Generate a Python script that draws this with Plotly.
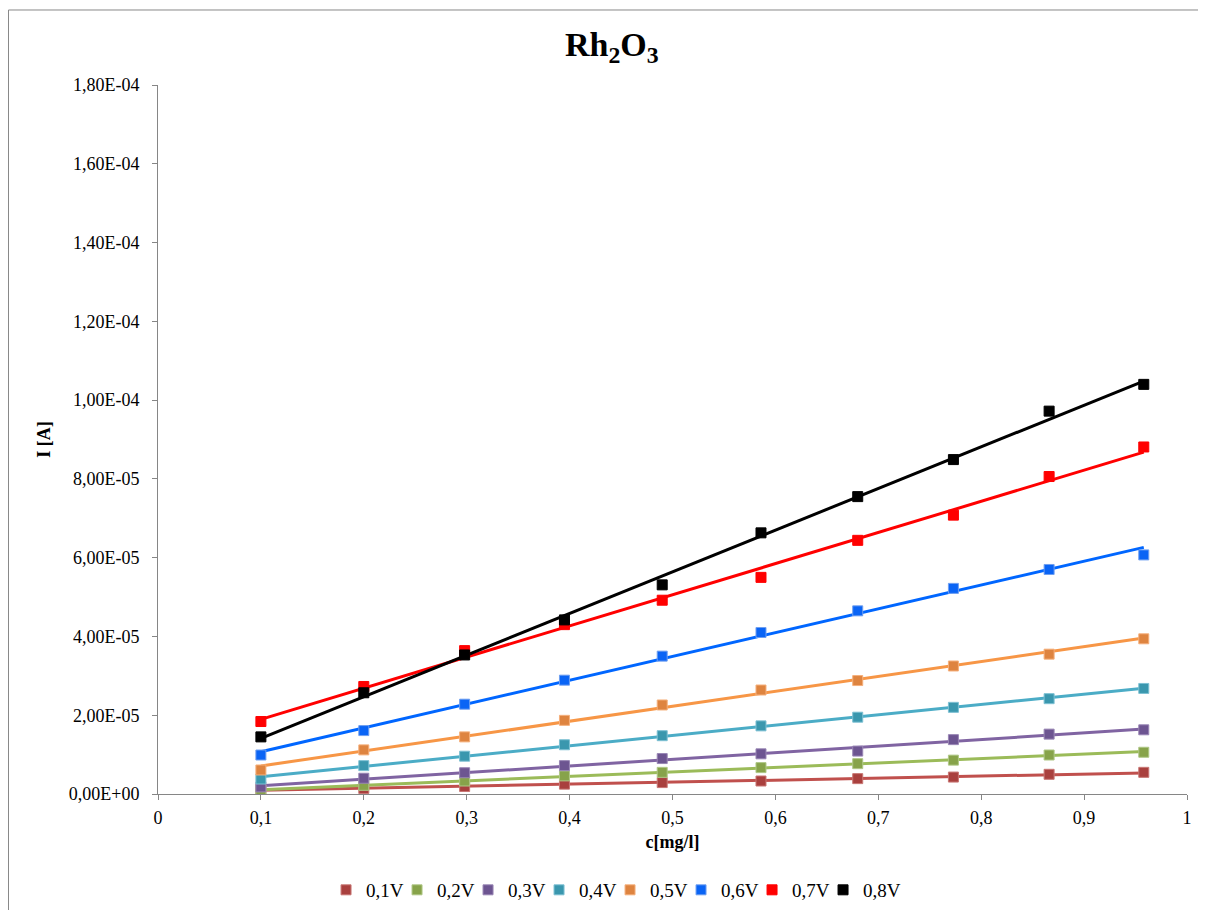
import numpy as np
import plotly.graph_objects as go

c_mg_l = [0.1, 0.2, 0.298, 0.395, 0.49, 0.586, 0.68, 0.773, 0.866, 0.958]

i_01V = [1.2e-6, 1.4e-6, 1.9e-6, 2.5e-6, 2.9e-6, 3.3e-6, 3.9e-6, 4.3e-6, 5.0e-6, 5.5e-6]
i_02V = [1.0e-6, 2.2e-6, 3.3e-6, 4.6e-6, 5.5e-6, 6.7e-6, 7.7e-6, 8.6e-6, 9.9e-6, 1.06e-5]
i_03V = [1.8e-6, 4.0e-6, 5.4e-6, 7.2e-6, 9.0e-6, 1.02e-5, 1.09e-5, 1.38e-5, 1.52e-5, 1.63e-5]
i_04V = [3.8e-6, 7.2e-6, 9.6e-6, 1.25e-5, 1.48e-5, 1.73e-5, 1.95e-5, 2.2e-5, 2.42e-5, 2.68e-5]
i_05V = [6.1e-6, 1.12e-5, 1.45e-5, 1.87e-5, 2.26e-5, 2.64e-5, 2.88e-5, 3.25e-5, 3.55e-5, 3.94e-5]
i_06V = [9.9e-6, 1.61e-5, 2.28e-5, 2.89e-5, 3.5e-5, 4.1e-5, 4.65e-5, 5.22e-5, 5.7e-5, 6.07e-5]
i_07V = [1.84e-5, 2.73e-5, 3.64e-5, 4.3e-5, 4.92e-5, 5.5e-5, 6.44e-5, 7.08e-5, 8.06e-5, 8.81e-5]
i_08V = [1.45e-5, 2.57e-5, 3.53e-5, 4.42e-5, 5.31e-5, 6.63e-5, 7.55e-5, 8.49e-5, 9.72e-5, 1.04e-4]

series_names = ["0,1V", "0,2V", "0,3V", "0,4V", "0,5V", "0,6V", "0,7V", "0,8V"]
series_values = [i_01V, i_02V, i_03V, i_04V, i_05V, i_06V, i_07V, i_08V]
marker_colors = ["#A9403E", "#87A34A", "#6D5591", "#3A97AE", "#DE8440", "#0A64F5", "#FF0000", "#000000"]
marker_edges = ["#C87674", "#AFC786", "#9986B5", "#7DC0D3", "#F5B07C", "#6F9FF0", "#FF0000", "#000000"]
line_colors = ["#C0504D", "#9BBB59", "#8064A2", "#4BACC6", "#F79646", "#0066FF", "#FF0000", "#000000"]

x_tick_vals = [0, 0.1, 0.2, 0.3, 0.4, 0.5, 0.6, 0.7, 0.8, 0.9, 1.0]
x_tick_text = ["0", "0,1", "0,2", "0,3", "0,4", "0,5", "0,6", "0,7", "0,8", "0,9", "1"]
y_tick_vals = [0, 2e-5, 4e-5, 6e-5, 8e-5, 1e-4, 1.2e-4, 1.4e-4, 1.6e-4, 1.8e-4]
y_tick_text = ["0,00E+00", "2,00E-05", "4,00E-05", "6,00E-05", "8,00E-05",
               "1,00E-04", "1,20E-04", "1,40E-04", "1,60E-04", "1,80E-04"]

FONT = "Liberation Serif, Times New Roman, serif"

fig = go.Figure()

x = np.array(c_mg_l)
# trend lines (linear fits)
for name, vals, lc in zip(series_names, series_values, line_colors):
    k, b = np.polyfit(x, np.array(vals), 1)
    xs = [x.min(), x.max()]
    fig.add_trace(go.Scatter(x=xs, y=[k * v + b for v in xs], mode="lines",
                             line=dict(color=lc, width=3), showlegend=False,
                             hoverinfo="skip"))

# markers
for name, vals, mc, me in zip(series_names, series_values, marker_colors, marker_edges):
    fig.add_trace(go.Scatter(x=c_mg_l, y=vals, mode="markers", name=name,
                             marker=dict(symbol="square", size=10, color=mc,
                                         line=dict(color=me, width=1))))

# empty trailing legend slot so the last legend label is not clipped
fig.add_trace(go.Scatter(x=[None], y=[None], mode="markers", name=" ",
                         marker=dict(size=1, color="rgba(0,0,0,0)",
                                     line=dict(width=0, color="rgba(0,0,0,0)")),
                         hoverinfo="skip"))

fig.update_layout(
    width=1198, height=902,
    margin=dict(l=150, r=19, t=77, b=116),
    paper_bgcolor="white", plot_bgcolor="white",
    font=dict(family=FONT, color="#000000", size=17),
    title=dict(text="<b>Rh<sub>2</sub>O<sub>3</sub></b>", x=0.504, xref="container",
               xanchor="center", y=0.96, yref="container", yanchor="middle",
               font=dict(family=FONT, size=34, color="#000000")),
    showlegend=True,
    legend=dict(orientation="h", x=0.1633, xanchor="left",
                yref="container", y=0.0222, yanchor="middle",
                font=dict(family=FONT, size=19, color="#000000"),
                itemwidth=30, entrywidth=26, entrywidthmode="pixels",
                tracegroupgap=0, bgcolor="rgba(0,0,0,0)"),
    shapes=[dict(type="rect", xref="paper", yref="paper",
                 x0=-0.1453, x1=1.0155, y0=-0.2, y1=1.1058,
                 line=dict(color="#888888", width=1), fillcolor="rgba(0,0,0,0)",
                 layer="below")],
)

fig.update_xaxes(range=[0, 1], tickvals=x_tick_vals, ticktext=x_tick_text,
                 showgrid=False, zeroline=False, showline=True, linecolor="#868686",
                 linewidth=1, ticks="outside", ticklen=5, tickcolor="#868686",
                 ticklabelstandoff=2,
                 tickfont=dict(family=FONT, size=18),
                 title=dict(text="<b>c[mg/l]</b>", font=dict(family=FONT, size=18), standoff=8))
fig.update_yaxes(range=[0, 1.8e-4], tickvals=y_tick_vals, ticktext=y_tick_text,
                 showgrid=False, zeroline=False, showline=True, linecolor="#868686",
                 linewidth=1, ticks="outside", ticklen=5, tickcolor="#868686",
                 ticklabelstandoff=9,
                 tickfont=dict(family=FONT, size=18),
                 title=dict(text="<b>I [A]</b>", font=dict(family=FONT, size=18), standoff=13))

fig.write_html("out.html")
